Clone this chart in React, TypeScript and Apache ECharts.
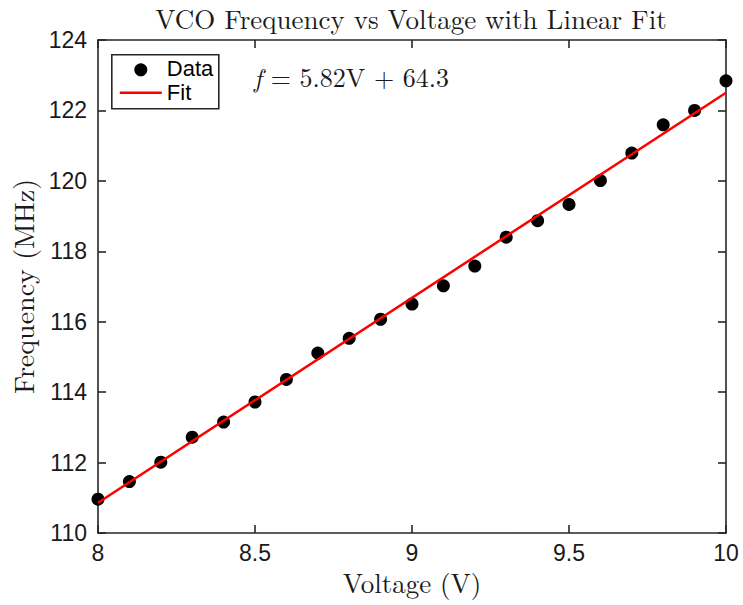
import React, { useEffect, useRef } from "react";
import * as echarts from "echarts";

// Measured VCO output frequency at each control voltage
const voltages = [8.0, 8.1, 8.2, 8.3, 8.4, 8.5, 8.6, 8.7, 8.8, 8.9, 9.0, 9.1, 9.2, 9.3, 9.4, 9.5, 9.6, 9.7, 9.8, 9.9, 10.0];
const frequencies = [110.96, 111.46, 112.01, 112.72, 113.15, 113.72, 114.36, 115.11, 115.53, 116.07, 116.5, 117.02, 117.58, 118.4, 118.87, 119.33, 120.01, 120.79, 121.59, 122.0, 122.84];

// Linear fit coefficients: f = slope * V + intercept
const slope = 5.82;
const intercept = 64.3;
const fitVoltages = [8, 10];

const legendLabels = ["Data", "Fit"];

const serif = "'Latin Modern Roman', 'CMU Serif', 'Liberation Serif', 'DejaVu Serif', serif";
const sans = "'Liberation Sans', Arial, Helvetica, sans-serif";
const axisColor = "#262626";
const textColor = "#1a1a1a";
const fitColor = "#ff0000";

export default function App() {
  const ref = useRef<HTMLDivElement>(null);

  useEffect(() => {
    document.body.style.margin = "0";
    document.body.style.overflow = "hidden";
    if (!ref.current) return;
    const chart = echarts.init(ref.current, undefined, { renderer: "svg" });

    const scatterData = voltages.map((v, i) => [v, frequencies[i]]);
    const fitData = fitVoltages.map((v) => [v, slope * v + intercept]);

    const axisLine = { show: true, lineStyle: { color: axisColor, width: 1.6 } };
    const axisTick = { show: true, inside: true, length: 8, lineStyle: { color: axisColor, width: 1.6 } };

    chart.setOption({
      animation: false,
      backgroundColor: "#ffffff",
      title: {
        text: "VCO Frequency vs Voltage with Linear Fit",
        left: 411,
        textAlign: "center",
        top: 4,
        padding: 0,
        textStyle: { fontFamily: serif, fontSize: 27, fontWeight: "normal", color: textColor },
      },
      grid: { left: 97, right: 17, top: 40, bottom: 72, containLabel: false },
      xAxis: [
        {
          type: "value",
          min: 8,
          max: 10,
          interval: 0.5,
          name: "Voltage (V)",
          nameLocation: "middle",
          nameGap: 31,
          nameTextStyle: { fontFamily: serif, fontSize: 27, color: textColor },
          axisLine,
          axisTick,
          splitLine: { show: false },
          axisLabel: { fontFamily: sans, fontSize: 23, color: textColor, margin: 8 },
        },
        {
          type: "value",
          position: "top",
          min: 8,
          max: 10,
          interval: 0.5,
          axisLine,
          axisTick,
          splitLine: { show: false },
          axisLabel: { show: false },
        },
      ],
      yAxis: [
        {
          type: "value",
          min: 110,
          max: 124,
          interval: 2,
          name: "Frequency (MHz)",
          nameLocation: "middle",
          nameGap: 62,
          nameTextStyle: { fontFamily: serif, fontSize: 28, color: textColor },
          axisLine,
          axisTick,
          splitLine: { show: false },
          axisLabel: { fontFamily: sans, fontSize: 23, color: textColor, margin: 11 },
        },
        {
          type: "value",
          position: "right",
          min: 110,
          max: 124,
          interval: 2,
          axisLine,
          axisTick,
          splitLine: { show: false },
          axisLabel: { show: false },
        },
      ],
      graphic: [
        // legend box
        {
          type: "group",
          left: 111,
          top: 54,
          z: 100,
          children: [
            {
              type: "rect",
              shape: { x: 0, y: 0, width: 107, height: 54 },
              style: { fill: "#ffffff", stroke: axisColor, lineWidth: 1.6 },
            },
            {
              type: "circle",
              shape: { cx: 29, cy: 15, r: 6.5 },
              style: { fill: "#000000" },
            },
            {
              type: "line",
              shape: { x1: 8, y1: 38, x2: 50, y2: 38 },
              style: { stroke: fitColor, lineWidth: 2.5 },
            },
            {
              type: "text",
              x: 55,
              y: 14,
              style: { text: legendLabels[0], fontFamily: sans, fontSize: 22, fill: "#000", verticalAlign: "middle" },
            },
            {
              type: "text",
              x: 55,
              y: 38,
              style: { text: legendLabels[1], fontFamily: sans, fontSize: 22, fill: "#000", verticalAlign: "middle" },
            },
          ],
        },
        {
          type: "text",
          left: 254,
          top: 63,
          style: {
            rich: {
              it: { fontFamily: serif, fontStyle: "italic", fontSize: 26, fill: textColor },
              n: { fontFamily: serif, fontSize: 26, fill: textColor },
            },
            text: "{it|f}{n| = 5.82V + 64.3}",
          },
        },
      ],
      series: [
        {
          name: "Fit",
          type: "line",
          data: fitData,
          symbol: "none",
          lineStyle: { color: fitColor, width: 2.5 },
          itemStyle: { color: fitColor },
          z: 3,
        },
        {
          name: "Data",
          type: "scatter",
          data: scatterData,
          symbol: "circle",
          symbolSize: 13,
          itemStyle: { color: "#000000", opacity: 1 },
          z: 2,
        },
      ],
    });

    return () => chart.dispose();
  }, []);

  return <div ref={ref} style={{ position: "absolute", left: 0, top: 0, width: 743, height: 605 }} />;
}
